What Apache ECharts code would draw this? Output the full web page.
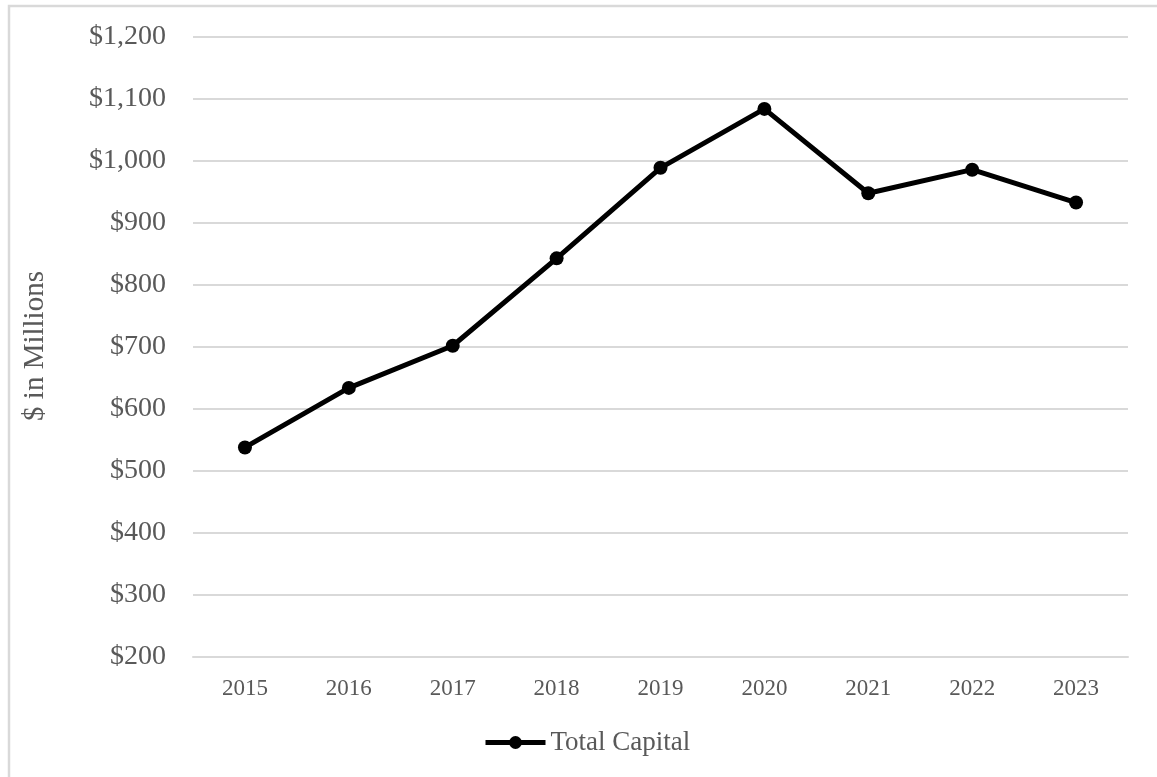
<!DOCTYPE html>
<html>
<head>
<meta charset="utf-8">
<script src="https://cdn.jsdelivr.net/npm/echarts@6/dist/echarts.min.js"></script>
<style>
  html, body { margin: 0; padding: 0; background: #ffffff; }
  #chart { width: 1157px; height: 777px; }
</style>
</head>
<body>
<div id="chart"></div>
<script>
// Year categories along the x axis
const years = ['2015', '2016', '2017', '2018', '2019', '2020', '2021', '2022', '2023'];
// Total capital, $ in millions
const totalCapital = [538, 634, 702, 843, 989, 1084, 948, 986, 933];
// Value axis range and step
const yMin = 200;
const yMax = 1200;
const yStep = 100;
const seriesName = 'Total Capital';
const yAxisTitle = '$ in Millions';

const textColor = '#595959';
const gridColor = '#d9d9d9';
const fontFamily = '"Liberation Serif", "Times New Roman", serif';

function money(v) {
  return '$' + v.toLocaleString('en-US');
}

const chart = echarts.init(document.getElementById('chart'), null, { renderer: 'canvas' });
chart.setOption({
  backgroundColor: '#ffffff',
  animation: false,
  textStyle: { fontFamily: fontFamily, color: textColor },
  graphic: [
    {
      type: 'rect',
      shape: { x: 9, y: 6, width: 1400, height: 1000 },
      style: { fill: 'transparent', stroke: gridColor, lineWidth: 2.5 },
      silent: true
    },
    {
      type: 'text',
      rotation: Math.PI / 2,
      x: 35,
      y: 346,
      silent: true,
      style: {
        text: yAxisTitle,
        fill: textColor,
        font: '29px ' + fontFamily,
        textAlign: 'center',
        textVerticalAlign: 'middle'
      }
    }
  ],
  grid: { left: 193, right: 29, top: 37, bottom: 120, containLabel: false },
  legend: {
    left: 478,
    top: 724,
    itemWidth: 60,
    itemHeight: 16,
    lineStyle: { color: '#000000', width: 5 },
    textStyle: { fontFamily: fontFamily, fontSize: 27, color: textColor },
    data: [seriesName]
  },
  xAxis: {
    type: 'category',
    data: years,
    boundaryGap: true,
    axisLine: { show: true, lineStyle: { color: gridColor, width: 2 } },
    axisTick: { show: false },
    axisLabel: { fontFamily: fontFamily, fontSize: 23, color: textColor, margin: 20 },
    splitLine: { show: false }
  },
  yAxis: {
    type: 'value',
    min: yMin,
    max: yMax,
    interval: yStep,
    axisLine: { show: false },
    axisTick: { show: false },
    axisLabel: { fontFamily: fontFamily, fontSize: 28, color: textColor, margin: 27, formatter: money },
    splitLine: { show: true, lineStyle: { color: gridColor, width: 2 } }
  },
  series: [
    {
      name: seriesName,
      type: 'line',
      data: totalCapital,
      symbol: 'circle',
      symbolSize: 14,
      lineStyle: { color: '#000000', width: 5 },
      itemStyle: { color: '#000000' }
    }
  ]
});
</script>
</body>
</html>
